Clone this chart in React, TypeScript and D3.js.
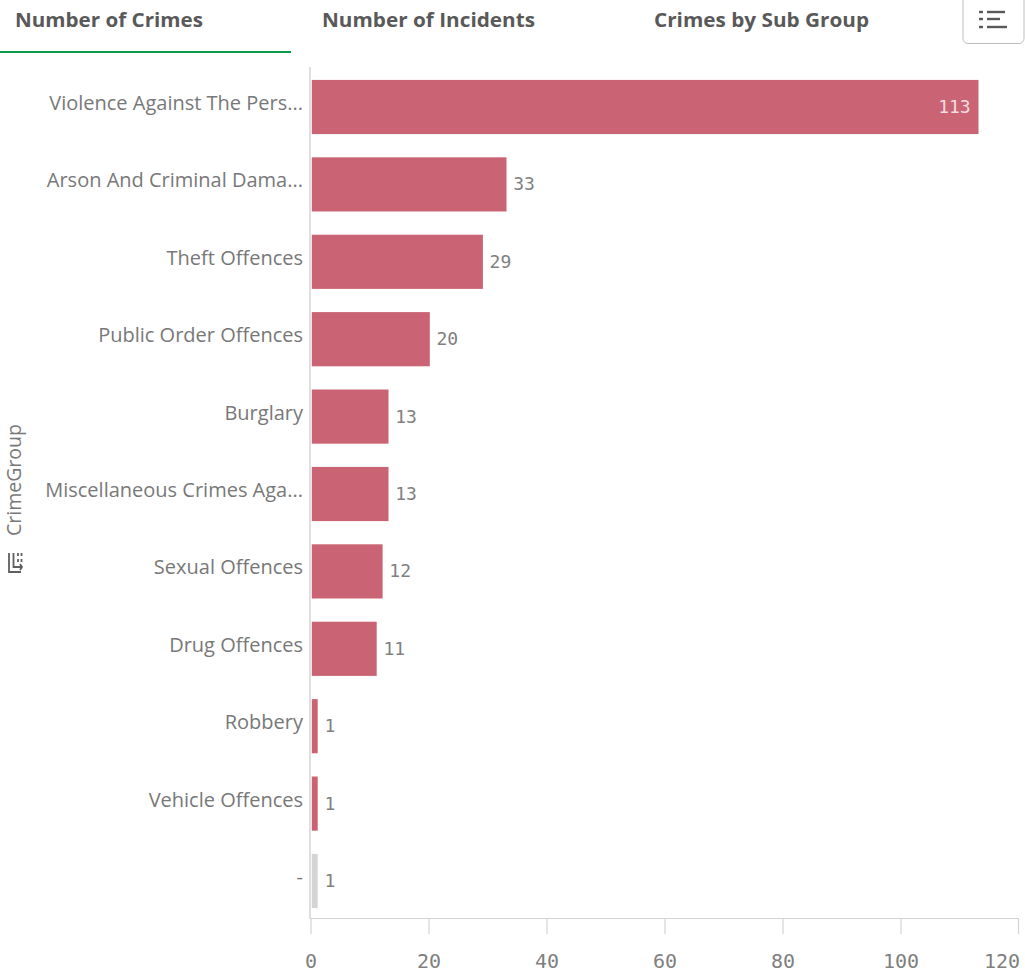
import React, { useEffect, useRef } from "react";
import * as d3 from "d3";

const categories = [
  "Violence Against The Pers...",
  "Arson And Criminal Dama...",
  "Theft Offences",
  "Public Order Offences",
  "Burglary",
  "Miscellaneous Crimes Aga...",
  "Sexual Offences",
  "Drug Offences",
  "Robbery",
  "Vehicle Offences",
  "-",
];
const crimeCounts = [113, 33, 29, 20, 13, 13, 12, 11, 1, 1, 1];
const xTicks = [0, 20, 40, 60, 80, 100, 120];
const tabs = ["Number of Crimes", "Number of Incidents", "Crimes by Sub Group"];
const tabX = [15, 322, 654];
const axisTitle = "CrimeGroup";

const W = 1025;
const H = 972;
const LABEL_FONT = "'Open Sans', 'Noto Sans', sans-serif";
const NUM_FONT = "'DejaVu Sans Mono', monospace";

export default function App() {
  const ref = useRef<SVGSVGElement | null>(null);

  useEffect(() => {
    const svg = d3.select(ref.current);
    svg.selectAll("*").remove();

    const x = d3.scaleLinear().domain([0, 120]).range([311, 1019]);
    const y = d3
      .scaleBand<string>()
      .domain(categories.map((c, i) => `${i}`))
      .range([68.3, 919.7])
      .paddingInner(0.3)
      .paddingOuter(0.15);

    // Tabs
    svg
      .selectAll("text.tab")
      .data(tabs)
      .join("text")
      .attr("class", "tab")
      .attr("x", (_, i) => tabX[i])
      .attr("y", 27)
      .attr("font-family", LABEL_FONT)
      .attr("font-size", 20)
      .attr("font-weight", 700)
      .attr("textLength", (_, i) => [188, 213, 215][i])
      .attr("lengthAdjust", "spacingAndGlyphs")
      .attr("fill", "#595959")
      .text((d) => d);

    svg
      .append("line")
      .attr("x1", 0)
      .attr("x2", 291)
      .attr("y1", 52)
      .attr("y2", 52)
      .attr("stroke", "#0a9a47")
      .attr("stroke-width", 2);

    // Menu button
    svg
      .append("rect")
      .attr("x", 963)
      .attr("y", -6)
      .attr("width", 61)
      .attr("height", 49.5)
      .attr("rx", 5)
      .attr("fill", "#fff")
      .attr("stroke", "#bdbdbd");
    const menu = svg.append("g").attr("stroke", "#595959");
    [
      [12, 1005],
      [19, 1000],
      [27, 1007],
    ].forEach(([yy, x2]) => {
      menu
        .append("line")
        .attr("x1", 987)
        .attr("x2", x2)
        .attr("y1", yy)
        .attr("y2", yy)
        .attr("stroke-width", 2.4);
      menu
        .append("line")
        .attr("x1", 979)
        .attr("x2", 983)
        .attr("y1", yy)
        .attr("y2", yy)
        .attr("stroke-width", 2.4);
    });

    // Axis lines and ticks
    svg
      .append("line")
      .attr("x1", 310)
      .attr("x2", 310)
      .attr("y1", 67)
      .attr("y2", 919)
      .attr("stroke", "#d4d4d4")
      .attr("stroke-width", 1.5);
    svg
      .append("line")
      .attr("x1", 310)
      .attr("x2", 1019)
      .attr("y1", 918.5)
      .attr("y2", 918.5)
      .attr("stroke", "#d4d4d4")
      .attr("stroke-width", 1.2);
    svg
      .selectAll("line.tick")
      .data(xTicks)
      .join("line")
      .attr("class", "tick")
      .attr("x1", (d) => Math.min(x(d), 1018.5))
      .attr("x2", (d) => Math.min(x(d), 1018.5))
      .attr("y1", 919)
      .attr("y2", 934)
      .attr("stroke", "#d4d4d4")
      .attr("stroke-width", 1.2);
    svg
      .selectAll("text.xlab")
      .data(xTicks)
      .join("text")
      .attr("class", "xlab")
      .attr("x", (d) => (d === 120 ? 1002 : x(d)))
      .attr("y", 968)
      .attr("text-anchor", "middle")
      .attr("font-family", NUM_FONT)
      .attr("font-size", 20)
      .attr("fill", "#808080")
      .text((d) => d);

    // Bars
    svg
      .selectAll("rect.bar")
      .data(crimeCounts)
      .join("rect")
      .attr("class", "bar")
      .attr("x", x(0) + 0.8)
      .attr("y", (_, i) => y(`${i}`)!)
      .attr("width", (d) => x(d) - x(0))
      .attr("height", y.bandwidth())
      .attr("fill", (_, i) => (categories[i] === "-" ? "#d4d4d4" : "#ca6373"));

    // Category labels
    svg
      .selectAll("text.cat")
      .data(categories)
      .join("text")
      .attr("class", "cat")
      .attr("x", 303)
      .attr("y", (_, i) => y(`${i}`)! + 30)
      .attr("text-anchor", "end")
      .attr("font-family", LABEL_FONT)
      .attr("font-size", 20)
      .attr("fill", "#787878")
      .text((d) => d);

    // Value labels
    svg
      .selectAll("text.val")
      .data(crimeCounts)
      .join("text")
      .attr("class", "val")
      .attr("x", (d) => (d === 113 ? x(d) - 7 : x(d) + 7.5))
      .attr("y", (_, i) => y(`${i}`)! + 33)
      .attr("text-anchor", (d) => (d === 113 ? "end" : "start"))
      .attr("font-family", NUM_FONT)
      .attr("font-size", 18)
      .attr("fill", (d) => (d === 113 ? "#f3dde1" : "#808080"))
      .text((d) => d);

    // Dimension title and icon
    svg
      .append("text")
      .attr("transform", "translate(21,536) rotate(-90)")
      .attr("font-family", LABEL_FONT)
      .attr("font-size", 19.5)
      .attr("fill", "#787878")
      .text(axisTitle);
    const icon = svg
      .append("g")
      .attr("fill", "none")
      .attr("stroke", "#5f5f5f")
      .attr("stroke-width", 1.8);
    icon
      .append("path")
      .attr("d", "M9 553 V572 H21 M13.5 553 V567 H22 M18 553 V556 M18 559 V562 M21.5 553 V556 M21.5 559 V562 M20 564 L22 567 L20 570");
  }, []);

  return (
    <svg
      ref={ref}
      width={W}
      height={H}
      viewBox={`0 0 ${W} ${H}`}
      style={{ position: "absolute", left: 0, top: 0, background: "#fff", display: "block" }}
    />
  );
}
